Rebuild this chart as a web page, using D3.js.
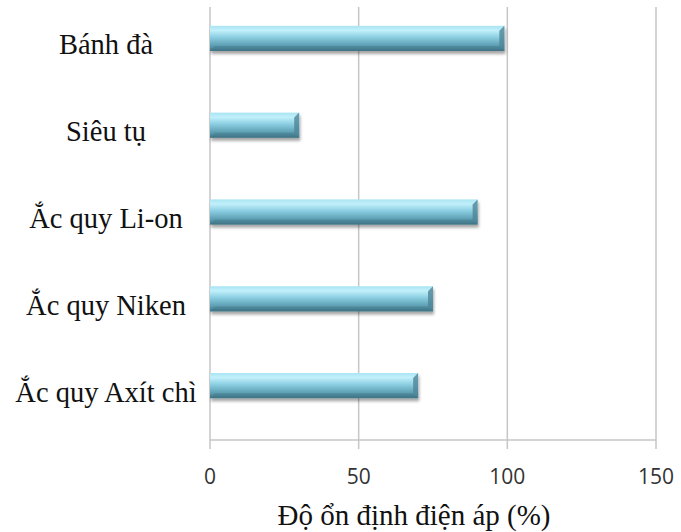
<!DOCTYPE html>
<html>
<head>
<meta charset="utf-8">
<script src="https://cdn.jsdelivr.net/npm/d3@7"></script>
<style>
  body { margin: 0; background: #fff; }
</style>
</head>
<body>
<div id="chart"></div>
<script>
// dữ liệu
const categories = ["Bánh đà", "Siêu tụ", "Ắc quy Li-on", "Ắc quy Niken", "Ắc quy Axít chì"]
const values = [99, 30, 90, 75, 70]
const xTicks = [0, 50, 100, 150]
const xTitle = "Độ ổn định điện áp (%)"

const width = 681, height = 532
const margin = { top: 7, right: 25, bottom: 92, left: 210 }
const plotBottom = height - margin.bottom

const svg = d3.select("#chart").append("svg")
    .attr("width", width)
    .attr("height", height)

const x = d3.scaleLinear().domain([0, 150]).range([margin.left, width - margin.right])
// dải của các thanh (không đối xứng với vùng vẽ)
const y = d3.scaleBand().domain(categories).range([-5, 429]).paddingInner(0.71).paddingOuter(0.355)

// gradient cho thanh
const defs = svg.append("defs")
const grad = defs.append("linearGradient").attr("id", "barGrad").attr("x1", 0).attr("y1", 0).attr("x2", 0).attr("y2", 1)
grad.append("stop").attr("offset", "0%").attr("stop-color", "#a9e4f2")
grad.append("stop").attr("offset", "18%").attr("stop-color", "#c2f0fb")
grad.append("stop").attr("offset", "45%").attr("stop-color", "#8ccfe2")
grad.append("stop").attr("offset", "80%").attr("stop-color", "#5b9cb0")
grad.append("stop").attr("offset", "100%").attr("stop-color", "#3f7385")
const shadow = defs.append("filter").attr("id", "shadow").attr("x", "-5%").attr("y", "-20%").attr("width", "110%").attr("height", "160%")
shadow.append("feGaussianBlur").attr("in", "SourceAlpha").attr("stdDeviation", 1.6)
shadow.append("feOffset").attr("dx", 1).attr("dy", 2.5).attr("result", "b")
shadow.append("feComponentTransfer").append("feFuncA").attr("type", "linear").attr("slope", 0.35)
const merge = shadow.append("feMerge")
merge.append("feMergeNode")
merge.append("feMergeNode").attr("in", "SourceGraphic")

// lưới dọc
svg.append("g").selectAll("line").data(xTicks).enter().append("line")
    .attr("x1", d => x(d)).attr("x2", d => x(d))
    .attr("y1", margin.top).attr("y2", plotBottom + 9)
    .attr("stroke", "#c6c6c6").attr("stroke-width", 1.5)

// trục x
svg.append("line")
    .attr("x1", x(0)).attr("x2", x(150))
    .attr("y1", plotBottom).attr("y2", plotBottom)
    .attr("stroke", "#c6c6c6").attr("stroke-width", 1.5)

svg.append("g").selectAll("text").data(xTicks).enter().append("text")
    .attr("x", d => x(d)).attr("y", 484)
    .attr("text-anchor", "middle")
    .attr("font-family", "'Open Sans', 'DejaVu Sans', sans-serif")
    .attr("font-size", 21)
    .attr("fill", "#333")
    .text(d => d)

svg.append("text")
    .attr("x", 414).attr("y", 525)
    .attr("text-anchor", "middle")
    .attr("font-family", "'Liberation Serif', 'Times New Roman', serif")
    .attr("font-size", 29)
    .attr("fill", "#111")
    .text(xTitle)

// nhãn danh mục
svg.append("g").selectAll("text").data(categories).enter().append("text")
    .attr("x", 106).attr("y", d => y(d) + y.bandwidth() / 2 + 16)
    .attr("text-anchor", "middle")
    .attr("font-family", "'Liberation Serif', 'Times New Roman', serif")
    .attr("font-size", 28.5)
    .attr("fill", "#111")
    .text(d => d)

// các thanh
const bars = svg.append("g").selectAll("g").data(values).enter().append("g")
    .attr("filter", "url(#shadow)")
bars.append("rect")
    .attr("x", x(0))
    .attr("y", (d, i) => y(categories[i]))
    .attr("width", d => x(d) - x(0))
    .attr("height", y.bandwidth())
    .attr("fill", "url(#barGrad)")
// vát đầu thanh
bars.append("path")
    .attr("d", (d, i) => {
        const x1 = x(d), y0 = y(categories[i]), h = y.bandwidth(), b = 5
        return `M${x1 - b},${y0 + b} L${x1},${y0} L${x1},${y0 + h} L${x1 - b},${y0 + h - b} Z`
    })
    .attr("fill", "#4f8597").attr("opacity", 0.8)
bars.append("path")
    .attr("d", (d, i) => {
        const x1 = x(d), y0 = y(categories[i]), h = y.bandwidth(), b = 5
        return `M${x(0)},${y0 + h} L${x(0) + b},${y0 + h - b} L${x1 - b},${y0 + h - b} L${x1},${y0 + h} Z`
    })
    .attr("fill", "#3f7385").attr("opacity", 0.35)
</script>
</body>
</html>
